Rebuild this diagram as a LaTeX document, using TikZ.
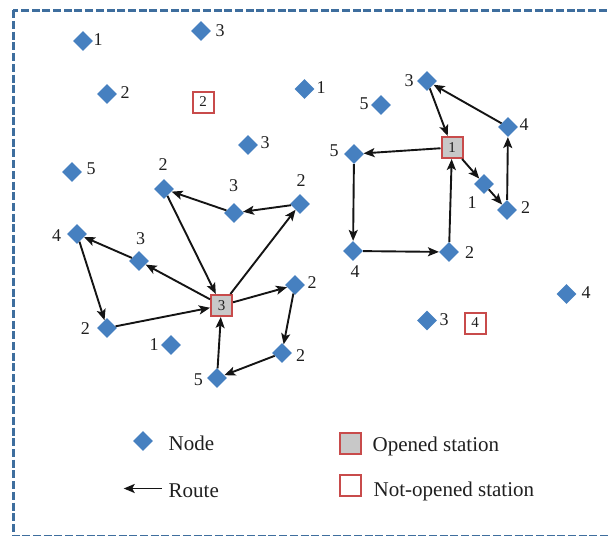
\documentclass[tikz,border=0pt]{standalone}
\usepackage{fontspec}
\setmainfont{Liberation Serif}
\usetikzlibrary{shapes.geometric,arrows.meta}
\definecolor{nodeblue}{RGB}{70,128,192}
\definecolor{stred}{RGB}{200,75,75}
\definecolor{stgray}{RGB}{200,200,200}
\definecolor{bordblue}{RGB}{62,110,158}
\definecolor{routeblk}{RGB}{20,20,20}
\tikzset{
 cust/.style={shape=diamond,fill=nodeblue,inner sep=0pt,minimum width=20pt,minimum height=20pt},
 lab/.style={inner sep=0pt,text=black!88,font=\fontsize{18}{18}\selectfont},
 station/.style={draw=stred,line width=2pt,minimum size=21pt,inner sep=0pt,text=black!88,font=\fontsize{15}{15}\selectfont},
 opened/.style={station,fill=stgray},
 closed/.style={station,fill=white},
 route/.style={-{Stealth[length=11pt,width=9pt,inset=2.5pt]},line width=1.9pt,draw=routeblk,fill=routeblk},
 legtext/.style={anchor=base west,inner sep=0pt,text=black!88,font=\fontsize{21}{21}\selectfont},
}
\begin{document}
\begin{tikzpicture}[x=1pt,y=-1pt]
\useasboundingbox (0,0) rectangle (609,535);
\begin{scope}
\clip (0,0) rectangle (609,535);
\draw[bordblue,line width=2.6pt,dash pattern=on 8pt off 2.7pt] (13.3,10.3) rectangle (640,536.3);
\end{scope}

% scattered nodes
\node[cust] (s1) at (83,41) {};   \node[lab] (s1l) at (98,40) {1};
\node[cust] (s2) at (201,31) {};  \node[lab] (s2l) at (220,31) {3};
\node[cust] (s3) at (107,94) {};  \node[lab] (s3l) at (125,93) {2};
\node[cust] (s4) at (304.5,89) {};\node[lab] (s4l) at (321,88) {1};
\node[cust] (s5) at (248,145) {}; \node[lab] (s5l) at (265,143) {3};
\node[cust] (s6) at (72,172) {};  \node[lab] (s6l) at (91,169) {5};
\node[cust] (s7) at (381,105) {}; \node[lab] (s7l) at (364,104) {5};
\node[cust] (s8) at (566.5,294) {};\node[lab] (s8l) at (586,293) {4};
\node[cust] (s9) at (427,320.5) {};\node[lab] (s9l) at (444,320) {3};
\node[cust] (s10) at (171,345) {};\node[lab] (s10l) at (154,345) {1};
\node[closed] (box2) at (203,102) {2};
\node[closed] (box4) at (475,323) {4};

% left cluster
\node[opened] (st3) at (221.5,305.5) {3};
\node[cust] (A) at (164,189) {}; \node[lab] (Al) at (163,165) {2};
\node[cust] (B) at (234,213) {}; \node[lab] (Bl) at (233.7,186) {3};
\node[cust] (C) at (300,204) {}; \node[lab] (Cl) at (301,181) {2};
\node[cust] (D) at (77,234) {};  \node[lab] (Dl) at (56.7,235.5) {4};
\node[cust] (E) at (139,261) {}; \node[lab] (El) at (140.7,239) {3};
\node[cust] (F) at (107,328) {}; \node[lab] (Fl) at (85.3,329) {2};
\node[cust] (G) at (295,285) {}; \node[lab] (Gl) at (312,282.7) {2};
\node[cust] (H) at (282,353) {}; \node[lab] (Hl) at (300.7,356) {2};
\node[cust] (I) at (217,378) {}; \node[lab] (Il) at (198.3,379.7) {5};

\draw[route] (C) -- (B);
\draw[route] (B) -- (A);
\draw[route] (A) -- (st3);
\draw[route] (st3) -- (C);
\draw[route] (st3) -- (E);
\draw[route] (E) -- (D);
\draw[route] (D) -- (F);
\draw[route] (F) -- (st3);
\draw[route] (st3) -- (G);
\draw[route] (G) -- (H);
\draw[route] (H) -- (I);
\draw[route] (I) -- (st3);

% right cluster
\node[opened] (st1) at (452,147.5) {1};
\node[cust] (P3) at (427,81) {};   \node[lab] (P3l) at (409,80.7) {3};
\node[cust] (P4) at (508,127) {};  \node[lab] (P4l) at (524,124.7) {4};
\node[cust] (P5) at (354,154) {};  \node[lab] (P5l) at (334,151) {5};
\node[cust] (P1) at (484,184) {};  \node[lab] (P1l) at (472,202.5) {1};
\node[cust] (P2a) at (507,210) {}; \node[lab] (P2al) at (525.7,207.7) {2};
\node[cust] (P4b) at (353,251) {}; \node[lab] (P4bl) at (355,272) {4};
\node[cust] (P2b) at (449,252) {}; \node[lab] (P2bl) at (469.7,252.3) {2};

\draw[route] (P3) -- (st1);
\draw[route] (st1) -- (P5);
\draw[route] (P5) -- (P4b);
\draw[route] (P4b) -- (P2b);
\draw[route] (P2b) -- (st1);
\draw[route] (st1) -- (P1);
\draw[route] (P1) -- (P2a);
\draw[route] (P2a) -- (P4);
\draw[route] (P4) -- (P3);

% legend
\node[cust] (legnode) at (143,441) {};
\node[legtext] (legnodet) at (168.5,450.7) {Node};
\coordinate (rs) at (161.5,488.5);
\coordinate (re) at (123.7,488.5);
\draw[route] (rs) -- (re);
\node[legtext] (legroutet) at (168.5,497) {Route};
\node[opened] (legopen) at (350,443.3) {};
\node[legtext] (legopent) at (372.4,451.5) {Opened station};
\node[closed] (legclosed) at (350,485.7) {};
\node[legtext] (legclosedt) at (373.5,496.7) {Not-opened station};
\end{tikzpicture}
\end{document}
